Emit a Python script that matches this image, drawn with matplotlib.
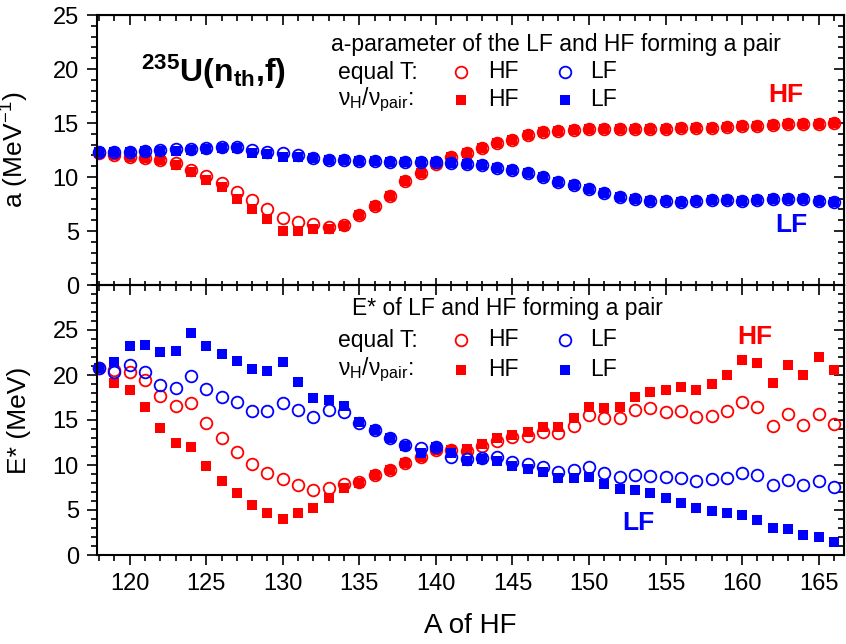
import numpy as np
import matplotlib
matplotlib.use('Agg')
import matplotlib.pyplot as plt
from matplotlib.ticker import MultipleLocator

plt.rcParams['font.family'] = ['Liberation Sans', 'DejaVu Sans']
plt.rcParams['mathtext.fontset'] = 'custom'
plt.rcParams['mathtext.rm'] = 'Liberation Sans'
plt.rcParams['mathtext.it'] = 'Liberation Sans:italic'
plt.rcParams['mathtext.bf'] = 'Liberation Sans:bold'

# mass number of the heavy fragment
mass_hf = [118, 119, 120, 121, 122, 123, 124, 125, 126, 127, 128, 129, 130,
           131, 132, 133, 134, 135, 136, 137, 138, 139, 140, 141, 142, 143,
           144, 145, 146, 147, 148, 149, 150, 151, 152, 153, 154, 155, 156,
           157, 158, 159, 160, 161, 162, 163, 164, 165, 166]

# level density parameter a (1/MeV)
a_hf_eqT = [12.19, 12.04, 11.88, 11.73, 11.57, 11.27, 10.65, 10.09, 9.41, 8.64,
            7.87, 7.04, 6.17, 5.86, 5.62, 5.40, 5.56, 6.48, 7.35, 8.27,
            9.63, 10.40, 11.20, 11.82, 12.25, 12.72, 13.12, 13.43, 13.89, 14.20,
            14.29, 14.35, 14.41, 14.41, 14.41, 14.44, 14.44, 14.48, 14.51, 14.54,
            14.57, 14.66, 14.75, 14.75, 14.81, 14.88, 14.91, 14.91, 14.97]
a_hf_nu = [12.19, 12.04, 11.88, 11.73, 11.57, 11.11, 10.43, 9.72, 9.04, 7.96,
           7.04, 6.08, 5.00, 5.00, 5.15, 5.15, 5.50, 6.48, 7.35, 8.27,
           9.63, 10.40, 11.20, 11.82, 12.25, 12.72, 13.12, 13.43, 13.89, 14.20,
           14.29, 14.35, 14.41, 14.41, 14.41, 14.44, 14.44, 14.48, 14.51, 14.54,
           14.57, 14.66, 14.75, 14.75, 14.81, 14.88, 14.91, 14.91, 14.97]
a_lf_eqT = [12.35, 12.35, 12.35, 12.44, 12.50, 12.56, 12.56, 12.65, 12.81, 12.81,
            12.50, 12.35, 12.19, 12.04, 11.73, 11.57, 11.57, 11.51, 11.48, 11.42,
            11.42, 11.42, 11.36, 11.27, 11.17, 11.11, 10.86, 10.65, 10.40, 10.03,
            9.57, 9.26, 8.86, 8.49, 8.18, 7.93, 7.78, 7.78, 7.72, 7.78,
            7.87, 7.87, 7.81, 7.87, 7.93, 7.96, 7.96, 7.81, 7.72]
a_lf_nu = [12.35, 12.35, 12.35, 12.40, 12.44, 12.44, 12.50, 12.56, 12.65, 12.65,
           12.26, 12.13, 11.88, 11.82, 11.73, 11.57, 11.57, 11.51, 11.48, 11.42,
           11.42, 11.42, 11.36, 11.27, 11.17, 11.11, 10.86, 10.65, 10.40, 10.03,
           9.57, 9.26, 8.86, 8.49, 8.18, 7.93, 7.78, 7.78, 7.72, 7.78,
           7.87, 7.87, 7.81, 7.87, 7.93, 7.96, 7.96, 7.81, 7.72]

# excitation energy E* (MeV)
e_hf_eqT = [20.80, 20.56, 20.37, 19.44, 17.67, 16.56, 16.93, 14.63, 13.04, 11.41,
            10.11, 9.15, 8.44, 7.78, 7.22, 7.41, 7.89, 8.15, 8.89, 9.44,
            10.26, 10.85, 11.70, 11.70, 11.59, 12.11, 12.70, 13.07, 13.22, 13.70,
            13.59, 14.33, 15.56, 15.19, 15.19, 16.11, 16.30, 15.93, 16.00, 15.30,
            15.44, 16.04, 17.04, 16.48, 14.33, 15.67, 14.44, 15.63, 14.56]
e_hf_nu = [20.80, 19.15, 18.33, 16.41, 14.07, 12.48, 12.04, 9.89, 8.22, 6.85,
           5.56, 4.63, 3.96, 4.63, 5.19, 6.37, 7.41, 7.96, 8.89, 9.44,
           10.26, 10.85, 11.70, 11.70, 11.74, 12.33, 13.04, 13.33, 13.70, 14.19,
           14.26, 15.19, 16.48, 16.30, 16.48, 17.59, 18.15, 18.33, 18.70, 18.33,
           18.96, 20.00, 21.67, 21.37, 19.15, 21.11, 20.00, 21.96, 20.56]
e_lf_eqT = [20.80, 20.37, 21.11, 20.37, 18.89, 18.52, 19.93, 18.44, 17.52, 17.04,
            16.04, 16.00, 16.85, 16.15, 15.37, 16.15, 15.93, 14.63, 13.89, 12.96,
            12.22, 11.85, 12.00, 10.93, 10.63, 10.74, 10.85, 10.37, 10.11, 9.81,
            9.26, 9.44, 9.74, 9.07, 8.70, 8.89, 8.78, 8.70, 8.52, 8.22,
            8.41, 8.59, 9.07, 8.89, 7.78, 8.33, 7.78, 8.26, 7.52]
e_lf_nu = [20.80, 21.48, 23.22, 23.33, 22.52, 22.67, 24.70, 23.22, 22.33, 21.59,
           20.63, 20.48, 21.41, 19.26, 17.41, 17.22, 16.56, 14.81, 13.89, 12.96,
           12.11, 11.30, 12.00, 11.37, 10.48, 10.63, 10.44, 9.93, 9.52, 9.19,
           8.52, 8.52, 8.63, 7.89, 7.30, 7.22, 6.85, 6.30, 5.81, 5.19,
           4.93, 4.63, 4.44, 3.89, 2.96, 2.85, 2.22, 1.96, 1.48]

RED = '#ff0000'
BLUE = '#0000ff'
circ = dict(ls='none', marker='o', ms=8.4, mfc='none', mew=1.3, clip_on=False)
sq = dict(ls='none', marker='s', ms=7.6, mew=0, clip_on=False)

fig = plt.figure(figsize=(8.46, 6.44), dpi=100)
ax1 = fig.add_axes([97 / 846, 1 - 285 / 644, 747 / 846, 270 / 644])
ax2 = fig.add_axes([97 / 846, 1 - 555 / 644, 747 / 846, 270 / 644])


def draw_series(ax, hf_eq, hf_nu, lf_eq, lf_nu):
    ax.plot(mass_hf, hf_eq, mec=RED, **circ)
    ax.plot(mass_hf, hf_nu, mfc=RED, mec=RED, **sq)
    ax.plot(mass_hf, lf_eq, mec=BLUE, **circ)
    ax.plot(mass_hf, lf_nu, mfc=BLUE, mec=BLUE, **sq)


def style_axes(ax):
    ax.set_xlim(117.87, 166.65)
    ax.xaxis.set_major_locator(MultipleLocator(5))
    ax.xaxis.set_minor_locator(MultipleLocator(1))
    ax.yaxis.set_minor_locator(MultipleLocator(1))
    ax.tick_params(which='both', direction='out', top=False, right=False,
                   width=1.2, labelsize=17, pad=6)
    ax.tick_params(which='major', length=7)
    ax.tick_params(which='minor', length=4)
    for s in ax.spines.values():
        s.set_linewidth(1.5)
    top = ax.secondary_xaxis('top')
    top.xaxis.set_major_locator(MultipleLocator(5))
    top.xaxis.set_minor_locator(MultipleLocator(1))
    top.tick_params(which='both', direction='in', labeltop=False, width=1.2)
    top.tick_params(which='major', length=7)
    top.tick_params(which='minor', length=4)
    right = ax.secondary_yaxis('right')
    right.yaxis.set_major_locator(MultipleLocator(5))
    right.yaxis.set_minor_locator(MultipleLocator(1))
    right.tick_params(which='both', direction='in', labelright=False, width=1.2)
    right.tick_params(which='major', length=7)
    right.tick_params(which='minor', length=4)


draw_series(ax1, a_hf_eqT, a_hf_nu, a_lf_eqT, a_lf_nu)
draw_series(ax2, e_hf_eqT, e_hf_nu, e_lf_eqT, e_lf_nu)

for ax in (ax1, ax2):
    style_axes(ax)

ax1.set_ylim(0, 25)
ax1.set_yticks([0, 5, 10, 15, 20, 25])
ax1.tick_params(axis='x', which='both', direction='inout', labelbottom=False)
ax1.tick_params(axis='x', which='major', length=10)
ax1.tick_params(axis='x', which='minor', length=6)
ax2.set_ylim(0, 30)
ax2.set_yticks([0, 5, 10, 15, 20, 25])

ax1.set_ylabel('a (MeV$^{-1}$)', fontsize=19)
ax1.yaxis.set_label_coords(-0.088, 0.5)
ax2.set_ylabel('E* (MeV)', fontsize=19)
ax2.yaxis.set_label_coords(-0.088, 0.5)
ax2.set_xlabel('A of HF', fontsize=20)
ax2.xaxis.set_label_coords(0.5, -0.215)


def px(x, y, top_panel):
    # figure pixel -> axes fraction
    base = 285 if top_panel else 555
    return (x - 97) / 747, (base - y) / 270


def key_rows(ax, top_panel, title, y_title, y1, y2, x_title):
    ax.text(*px(x_title, y_title, top_panel), title, transform=ax.transAxes,
            fontsize=16.5, va='center', ha='left')
    rows = [('equal T:', y1, circ), ('ν$_\\mathrm{H}$/ν$_\\mathrm{pair}$:', y2, sq)]
    for label, y, style in rows:
        ax.text(*px(338, y, top_panel), label, transform=ax.transAxes,
                fontsize=16.5, va='center', ha='left')
        for xm, xt, col, name in [(461, 488, RED, 'HF'), (565, 590, BLUE, 'LF')]:
            fx, fy = px(xm, y, top_panel)
            if style is circ:
                ax.plot([fx], [fy], transform=ax.transAxes, mec=col, **circ)
            else:
                ax.plot([fx], [fy], transform=ax.transAxes, mfc=col, mec=col, **sq)
            ax.text(*px(xt, y, top_panel), name, transform=ax.transAxes,
                    fontsize=16.5, va='center', ha='left')


key_rows(ax1, True, 'a-parameter of the LF and HF forming a pair', 44, 72, 100, 331)
key_rows(ax2, False, 'E* of LF and HF forming a pair', 308, 340, 370, 352)

ax1.text(*px(141, 72, True), r'$\mathbf{{}^{235}U(n_{th}{,}f)}$', transform=ax1.transAxes,
         fontsize=23, va='center', ha='left')
ax1.text(*px(768, 95, True), 'HF', transform=ax1.transAxes, color=RED,
         fontsize=19, fontweight='bold', va='center', ha='left')
ax1.text(*px(775, 225, True), 'LF', transform=ax1.transAxes, color=BLUE,
         fontsize=19, fontweight='bold', va='center', ha='left')
ax2.text(*px(737, 337, False), 'HF', transform=ax2.transAxes, color=RED,
         fontsize=19, fontweight='bold', va='center', ha='left')
ax2.text(*px(622, 523, False), 'LF', transform=ax2.transAxes, color=BLUE,
         fontsize=19, fontweight='bold', va='center', ha='left')

fig.savefig('out.png', dpi=100)
